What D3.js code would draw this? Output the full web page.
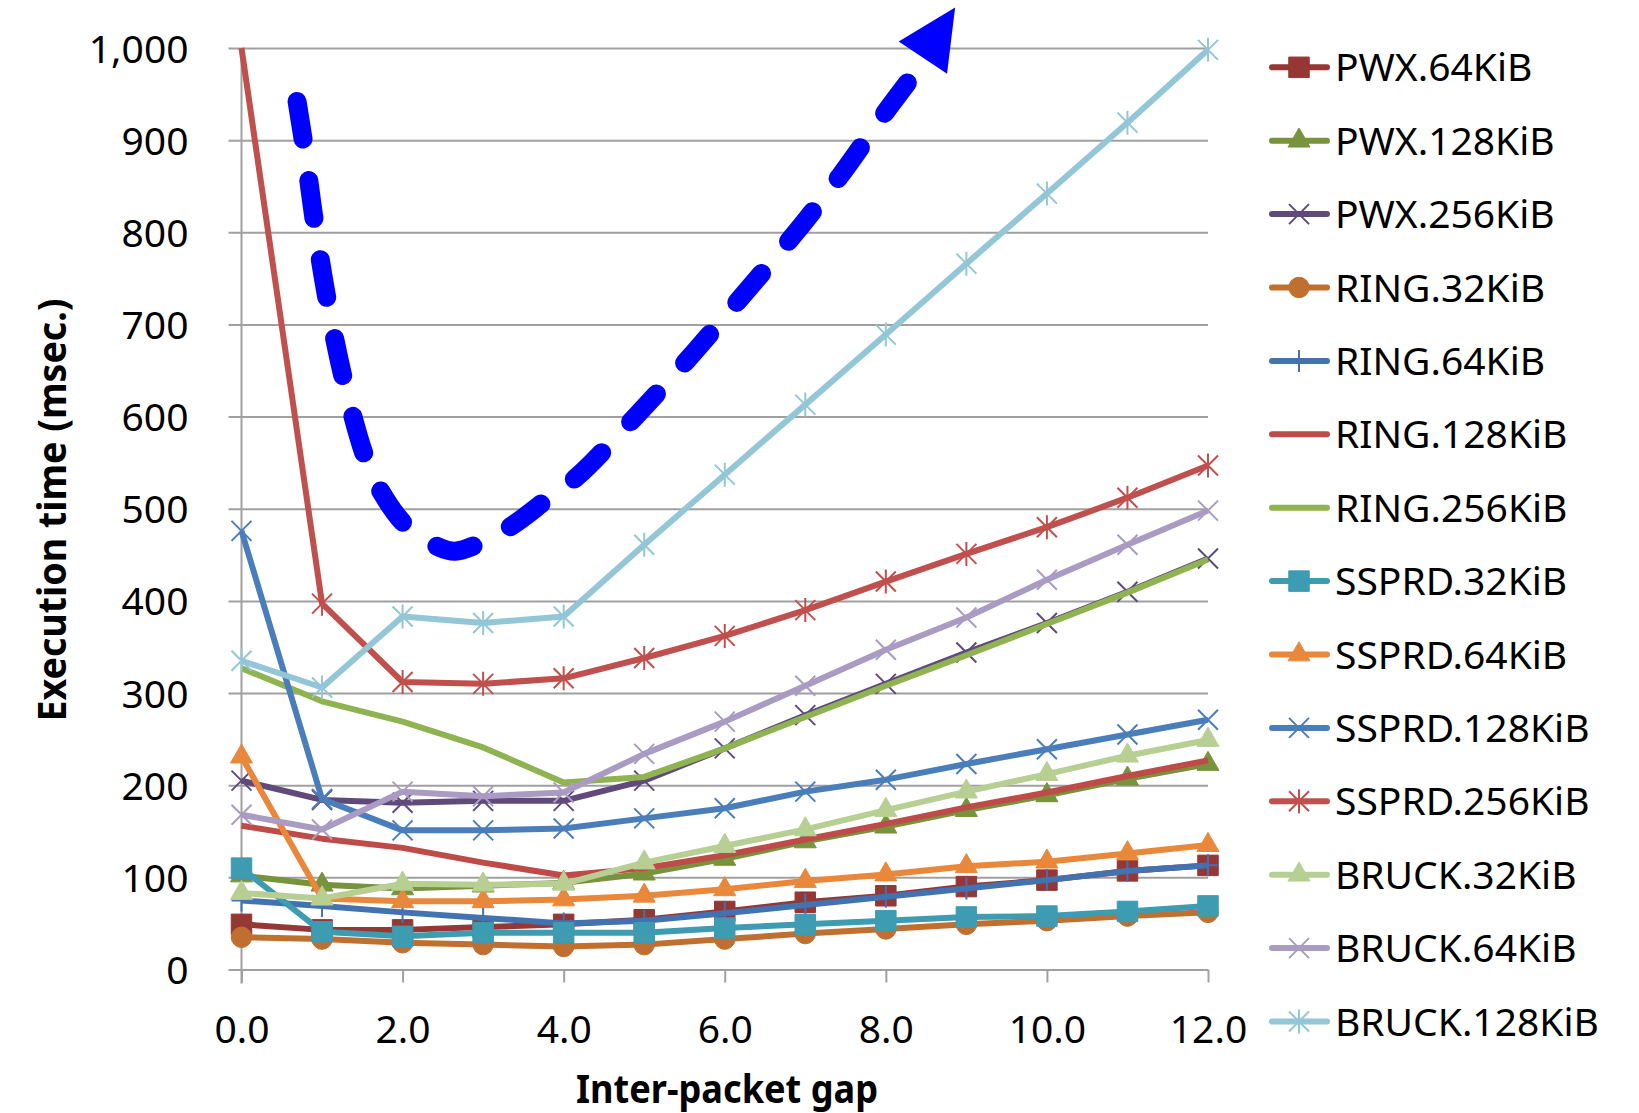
<!DOCTYPE html>
<html>
<head>
<meta charset="utf-8">
<script src="https://cdn.jsdelivr.net/npm/d3@7"></script>
<style>
  body { margin: 0; background: #fff; }
  text { font-family: "Noto Sans", sans-serif; fill: #000; }
</style>
</head>
<body>
<div id="gap_chart"></div>
<script>
/* Execution time vs inter-packet gap */

const gaps = [0, 1, 2, 3, 4, 5, 6, 7, 8, 9, 10, 11, 12];
const xTicks = [0, 2, 4, 6, 8, 10, 12];
const yTicks = [0, 100, 200, 300, 400, 500, 600, 700, 800, 900, 1000];

const seriesNames = ["PWX.64KiB", "PWX.128KiB", "PWX.256KiB", "RING.32KiB", "RING.64KiB",
  "RING.128KiB", "RING.256KiB", "SSPRD.32KiB", "SSPRD.64KiB", "SSPRD.128KiB",
  "SSPRD.256KiB", "BRUCK.32KiB", "BRUCK.64KiB", "BRUCK.128KiB"];

const pwx64 = [49, 43, 43, 46, 49, 54, 63, 73, 80, 90, 97, 107, 113];
const pwx128 = [102, 92, 88, 91, 94, 104, 120, 139, 155, 173, 189, 207, 223];
const pwx256 = [205, 184, 181, 183, 183, 205, 240, 276, 310, 344, 376, 410, 446];
const ring32 = [35, 33, 29, 27, 25, 27, 33, 39, 44, 49, 53, 58, 62];
const ring64 = [75, 69, 62, 56, 50, 53, 61, 70, 79, 88, 97, 107, 113];
const ring128 = [156, 142, 132, 116, 102, 110, 124, 141, 158, 176, 192, 210, 227];
const ring256 = [327, 291, 269, 241, 203, 209, 240, 274, 308, 341, 375, 409, 445];
const ssprd32 = [110, 41, 36, 40, 40, 40, 45, 49, 53, 57, 58, 63, 69];
const ssprd64 = [231, 77, 74, 74, 76, 80, 87, 96, 103, 112, 117, 126, 135];
const ssprd128 = [476, 185, 151, 151, 153, 164, 175, 193, 206, 223, 239, 255, 271];
const ssprd256 = [1000, 397, 312, 310, 316, 338, 362, 390, 421, 451, 480, 512, 547];
const bruck32 = [83, 77, 93, 92, 93, 116, 134, 152, 173, 193, 212, 232, 249];
const bruck64 = [168, 152, 193, 188, 192, 234, 269, 308, 347, 382, 423, 461, 498];
const bruck128 = [335, 306, 383, 376, 383, 461, 537, 613, 689, 766, 842, 919, 998];

// hand-drawn trend arrow, in chart units (gap, msec)
const arrowX = [0.69, 0.78, 0.91, 1.08, 1.28, 1.54, 1.73, 2.05, 2.46, 2.65, 2.97, 3.38, 3.79, 4.17, 4.87, 5.53, 6.17, 6.80, 7.43, 8.00, 8.30];
const arrowY = [942, 892, 809, 719, 636, 555, 519, 481, 458, 454, 463, 483, 510, 535, 598, 661, 726, 791, 861, 931, 966];
const headX = [8.16, 8.86, 8.76];
const headY = [1007, 1044, 972];

const allValues = [pwx64, pwx128, pwx256, ring32, ring64, ring128, ring256,
  ssprd32, ssprd64, ssprd128, ssprd256, bruck32, bruck64, bruck128];

const colors = ["#953735", "#77933C", "#604A7B", "#BF6F2F", "#4272B0", "#BE4B48", "#90B351",
  "#3D9BB2", "#E9883A", "#4A7EBB", "#C0504D", "#B8CF93", "#A99BC2", "#93C6D6"];
const markers = ["square", "triangle", "x", "circle", "plus", "none", "none",
  "square", "triangle", "x", "star", "triangle", "x", "star"];

const series = seriesNames.map((name, i) => ({
  name: name,
  color: colors[i],
  marker: markers[i],
  values: gaps.map((g, j) => ({ gap: g, time: allValues[i][j] }))
}));

const height = 1113,
  width = 1639,
  margin = ({ top: 48, right: 431, bottom: 143.5, left: 241.5 });

const svg = d3.select("#gap_chart")
  .append("svg")
  .attr("width", width)
  .attr("height", height)
  .attr("viewBox", [0, 0, width, height]);

let x = d3.scaleLinear()
  .domain([0, 12])
  .range([margin.left, width - margin.right]);

let y = d3.scaleLinear()
  .domain([0, 1000])
  .range([height - margin.bottom, margin.top]);

const plotW = x(12) - x(0);

// horizontal grid + y labels
const yAxis = svg.append("g")
  .attr("transform", `translate(${x(0)},0)`)
  .call(d3.axisLeft(y)
    .tickValues(yTicks)
    .tickFormat(d3.format(","))
    .tickSize(0)
    .tickPadding(53));
yAxis.select(".domain").remove();
yAxis.selectAll(".tick line")
  .attr("x1", -13)
  .attr("x2", plotW)
  .attr("stroke", "#a0a0a0")
  .attr("stroke-width", 2);
yAxis.selectAll(".tick text")
  .attr("font-family", "Noto Sans")
  .attr("font-size", 39)
  .attr("dy", "0.36em");

// vertical axis line
svg.append("line")
  .attr("x1", x(0)).attr("x2", x(0))
  .attr("y1", y(1000)).attr("y2", y(0) + 14)
  .attr("stroke", "#a0a0a0")
  .attr("stroke-width", 2);

const xAxis = svg.append("g")
  .attr("transform", `translate(0,${y(0)})`)
  .call(d3.axisBottom(x)
    .tickValues(xTicks)
    .tickFormat(d3.format(".1f"))
    .tickSize(13)
    .tickPadding(60));
xAxis.select(".domain").remove();
xAxis.selectAll(".tick line")
  .attr("stroke", "#a0a0a0")
  .attr("stroke-width", 2);
xAxis.selectAll(".tick text")
  .attr("font-family", "Noto Sans")
  .attr("font-size", 39)
  .attr("dy", "0");

svg.append("text")
  .attr("class", "x-label")
  .attr("text-anchor", "middle")
  .attr("x", 727)
  .attr("y", 1103)
  .attr("font-size", 39)
  .attr("font-weight", "bold")
  .attr("textLength", 302)
  .attr("lengthAdjust", "spacingAndGlyphs")
  .text("Inter-packet gap");

svg.append("text")
  .attr("class", "y-label")
  .attr("text-anchor", "middle")
  .attr("transform", "translate(66,510) rotate(-90)")
  .attr("font-size", 39)
  .attr("font-weight", "bold")
  .attr("textLength", 423)
  .attr("lengthAdjust", "spacingAndGlyphs")
  .text("Execution time (msec.)");

// markers
const fillSymbols = {
  square: d3.symbol(d3.symbolSquare, 420),
  triangle: d3.symbol(d3.symbolTriangle, 210),
  circle: d3.symbol(d3.symbolCircle, 330)
};
const strokePaths = {
  x: "M-10,-10L10,10M-10,10L10,-10",
  star: "M-10,-10L10,10M-10,10L10,-10M0,-12V12",
  plus: "M0,-11V11M-10,0H10"
};

function drawMarker(g, type, color) {
  if (type === "none") return;
  if (fillSymbols[type]) {
    g.append("path")
      .attr("d", fillSymbols[type]())
      .attr("fill", color)
      .attr("stroke", color)
      .attr("stroke-width", 1);
  } else {
    g.append("path")
      .attr("d", strokePaths[type])
      .attr("fill", "none")
      .attr("stroke", color)
      .attr("stroke-width", 2);
  }
}

let line = d3.line()
  .x(d => x(d.gap))
  .y(d => y(d.time));

for (let s of series) {
  const g = svg.append("g");
  g.append("path")
    .datum(s.values)
    .attr("d", line)
    .attr("fill", "none")
    .attr("stroke", s.color)
    .attr("stroke-width", 6)
    .attr("stroke-linejoin", "round");
  // markers sitting on the top edge of the plot are hidden, as in the source
  g.selectAll(".mk")
    .data(s.values.filter(d => d.time < 1000))
    .join("g")
    .attr("transform", d => `translate(${x(d.gap)},${y(d.time)})`)
    .each(function () { drawMarker(d3.select(this), s.marker, s.color); });
}

// blue dashed arrow annotation
const arrowPts = arrowX.map((v, i) => [x(v), y(arrowY[i])]);
svg.append("path")
  .attr("d", d3.line().curve(d3.curveCatmullRom)(arrowPts))
  .attr("fill", "none")
  .attr("stroke", "#0000ff")
  .attr("stroke-width", 19)
  .attr("stroke-linecap", "round")
  .attr("stroke-dasharray", "38 42");

svg.append("path")
  .attr("d", "M" + headX.map((v, i) => [x(v), y(headY[i])]).join("L") + "Z")
  .attr("fill", "#0000ff");

// legend
const legend = svg.append("g")
  .selectAll("g")
  .data(series)
  .join("g")
  .attr("transform", (d, i) => `translate(1270,${67.3 + i * 73.4})`);

legend.append("line")
  .attr("x1", 2).attr("x2", 57)
  .attr("stroke", d => d.color)
  .attr("stroke-width", 6)
  .attr("stroke-linecap", "round");

legend.append("g")
  .attr("transform", "translate(29,0)")
  .each(function (d) { drawMarker(d3.select(this), d.marker, d.color); });

legend.append("text")
  .attr("x", 65)
  .attr("dy", "0.36em")
  .attr("font-size", 39)
  .text(d => d.name);
</script>
</body>
</html>
